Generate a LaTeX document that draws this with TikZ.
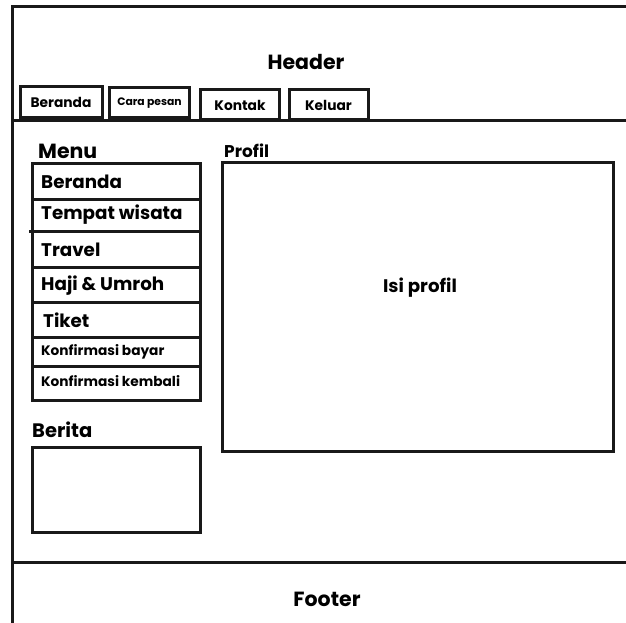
\documentclass[tikz,border=0pt]{standalone}
\usepackage{fontspec}
\setmainfont{Poppins}
\begin{document}
\begin{tikzpicture}[x=1pt,y=-1pt,
  frame/.style={line width=3pt,draw=black!90},
  boxy/.style={frame,rectangle,inner sep=0pt},
  tabtext/.style={font=\bfseries\fontsize{13.8}{13.8}\selectfont},
  itemtext/.style={anchor=west,inner sep=0pt,font=\bfseries\fontsize{18.3}{18.3}\selectfont},
  smalltext/.style={anchor=west,inner sep=0pt,font=\bfseries\fontsize{13.7}{13.7}\selectfont},
  title/.style={font=\bfseries\fontsize{20.5}{20.5}\selectfont,inner sep=0pt}]
\useasboundingbox (0,0) rectangle (626,623);
% outer frame lines
\draw[frame] (12,623) -- (12,7) -- (626,7);
\draw[frame] (12,121) -- (626,121);
\draw[frame] (12,562) -- (626,562);
\node[title] (header) at (306,62) {Header};
\node[title] (footer) at (327,599) {Footer};
% tabs
\node[boxy,minimum width=82pt,minimum height=31pt,tabtext] (t1) at (61,102.5) {Beranda};
\node[boxy,minimum width=80pt,minimum height=30pt,font=\bfseries\fontsize{10.8}{10.8}\selectfont] (t2) at (149.5,103) {Cara pesan};
\node[boxy,minimum width=79pt,minimum height=30pt,tabtext] (t3) at (240,105) {Kontak};
\node[boxy,minimum width=79pt,minimum height=30pt,tabtext] (t4) at (328.5,105) {Keluar};
% menu
\node[title,anchor=west] (menu) at (38,151) {Menu};
\foreach \n/\a/\b in {m1/163/199,m2/199/231,m3/231/267,m4/267/302,m5/302/337,m6/337/366,m7/366/400}{
  \draw[frame] (32,\a) rectangle (200,\b);
}
\draw[frame] (29,231) -- (32,231);
\node[itemtext] (i1) at (41,182) {Beranda};
\node[itemtext] (i2) at (41,215) {Tempat wisata};
\node[itemtext] (i3) at (41,250) {Travel};
\node[itemtext] (i4) at (41,286) {Haji \& Umroh};
\node[itemtext] (i5) at (43,320) {Tiket};
\node[smalltext] (i6) at (41,352) {Konfirmasi bayar};
\node[smalltext] (i7) at (41,381) {Konfirmasi kembali};
% berita
\node[title,anchor=west,font=\bfseries\fontsize{19.5}{19.5}\selectfont] (berita) at (32,430) {Berita};
\node[boxy,minimum width=168pt,minimum height=85pt] (bbox) at (116,489.5) {};
% profil
\node[title,anchor=west,font=\bfseries\fontsize{17}{17}\selectfont] (profil) at (224,151) {Profil};
\node[boxy,minimum width=391pt,minimum height=289pt] (pbox) at (417.5,306.5) {};
\node[font=\bfseries\fontsize{18.2}{18.2}\selectfont] (isi) at (420,288) {Isi profil};
\end{tikzpicture}
\end{document}
